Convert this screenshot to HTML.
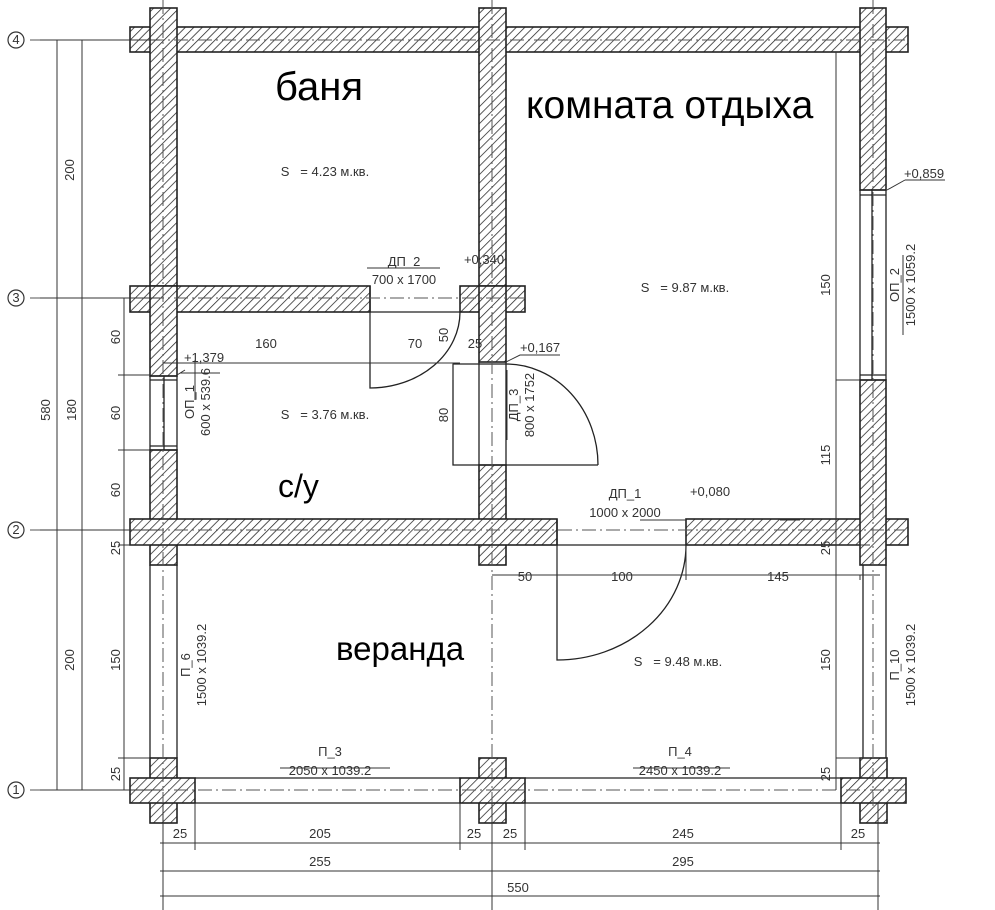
<!DOCTYPE html>
<html><head><meta charset="utf-8"><style>
html,body{margin:0;padding:0;background:#fff;}
svg{display:block;}
.t{font-family:"Liberation Sans",sans-serif;font-size:13px;fill:#333;}
.b{font-family:"Liberation Sans",sans-serif;fill:#000;}
</style></head><body>
<svg width="995" height="910" viewBox="0 0 995 910" xmlns="http://www.w3.org/2000/svg">
<defs>
<pattern id="h" patternUnits="userSpaceOnUse" width="6" height="6" patternTransform="rotate(45)">
<rect width="6" height="6" fill="#fff"/><line x1="0" y1="0" x2="0" y2="6" stroke="#222" stroke-width="1.5"/>
</pattern>
</defs>
<rect width="995" height="910" fill="#fff"/>
<g fill="url(#h)" stroke="#222" stroke-width="1.6">
<rect x="130" y="27" width="778" height="25"/>
<rect x="150" y="8" width="27" height="290"/>
<rect x="479" y="8" width="27" height="290"/>
<rect x="860" y="8" width="26" height="182"/>
<rect x="130" y="286" width="240" height="26"/>
<rect x="460" y="286" width="65" height="26"/>
<rect x="150" y="286" width="27" height="90"/>
<rect x="479" y="286" width="27" height="76"/>
<rect x="150" y="450" width="27" height="115"/>
<rect x="479" y="465" width="27" height="100"/>
<rect x="130" y="519" width="427" height="26"/>
<rect x="686" y="519" width="222" height="26"/>
<rect x="860" y="380" width="26" height="185"/>
<rect x="150" y="758" width="27" height="65"/>
<rect x="130" y="778" width="65" height="25"/>
<rect x="479" y="758" width="27" height="65"/>
<rect x="460" y="778" width="65" height="25"/>
<rect x="860" y="758" width="27" height="65"/>
<rect x="841" y="778" width="65" height="25"/>
</g>
<g fill="url(#h)" stroke="none">
<rect x="151" y="28" width="25" height="23"/><rect x="480" y="28" width="25" height="23"/><rect x="861" y="28" width="24" height="23"/>
<rect x="151" y="287" width="25" height="24"/><rect x="480" y="287" width="25" height="24"/>
<rect x="151" y="520" width="25" height="24"/><rect x="480" y="520" width="25" height="24"/><rect x="861" y="520" width="24" height="24"/>
<rect x="151" y="779" width="25" height="23"/><rect x="480" y="779" width="25" height="23"/><rect x="861" y="779" width="25" height="23"/>
</g>
<g stroke="#222" stroke-width="1.3" fill="none">
<path d="M150 376V450M177 376V450M164 376V450M150 376H177M150 380H177M150 446H177M150 450H177"/>
<path d="M860 190V380M886 190V380M872 190V380M860 190H886M860 195H886M860 375H886M860 380H886"/>
<path d="M479 362V465M506 362V465M370 286V312M370 312H460M557 519V545M557 545H686"/>
<path d="M150 565V758M177 565V758M863 565V758M886 565V758M195 778H460M195 803H460M525 778H841M525 803H841"/>
<path d="M370 312V388A90 76 0 0 0 460 312"/>
<path d="M453 364H506M453 364V465H598M506 364A92 101 0 0 1 598 465"/>
<path d="M557 545V660A129 115 0 0 0 686 545"/>
</g>
<g stroke="#555" stroke-width="1" fill="none" stroke-dasharray="14 4 2 4">
<path d="M30 40H905M30 298H525M30 530H905M30 790H905"/>
<path d="M163 0V810M492 0V900M873 0V810"/>
</g>
<g stroke="#333" stroke-width="1" fill="none">
<path d="M57 40V790M82 40V790M124 298V790M40 40H160M40 298H160M40 530H160M40 790H160"/>
<path d="M118 375H150M118 450H150M118 545H150M118 758H150"/>
<path d="M163 363H460M370 363V312M453 363V380M836 52V790M836 380H860M836 545H870M836 758H870"/>
<path d="M492 575H880M557 545V580M686 545V580M860 575V580"/>
<path d="M160 843H880M160 871H880M160 896H880M163 803V910M492 803V910M878 803V910M195 803V850M460 803V850M525 803V850M841 803V850"/>
<path d="M367 268H440M640 520H686M780 520H800M280 768H390M633 768H730M180 373H220M905 180H945M887 190L905 180M177 375L185 370M506 362L520 355H560"/>
<path d="M903 255V335M195 400V360M507 440V370"/>
</g>
<g stroke="#333" stroke-width="1.2" fill="#fff">
<circle cx="16" cy="40" r="8"/><circle cx="16" cy="298" r="8"/><circle cx="16" cy="530" r="8"/><circle cx="16" cy="790" r="8"/>
</g>
<g class="t" text-anchor="middle" font-size="11">
<text x="16" y="44">4</text><text x="16" y="302">3</text><text x="16" y="534">2</text><text x="16" y="794">1</text>
</g>
<g class="t" text-anchor="middle">
<text x="325" y="176">S &#160; = 4.23 м.кв.</text>
<text x="685" y="292">S &#160; = 9.87 м.кв.</text>
<text x="325" y="419">S &#160; = 3.76 м.кв.</text>
<text x="678" y="666">S &#160; = 9.48 м.кв.</text>
<text x="404" y="266">ДП_2</text><text x="404" y="284">700 x 1700</text>
<text x="484" y="264">+0,340</text>
<text x="924" y="178">+0,859</text>
<text x="204" y="362">+1,379</text>
<text x="540" y="352">+0,167</text>
<text x="710" y="496">+0,080</text>
<text x="625" y="498">ДП_1</text><text x="625" y="517">1000 x 2000</text>
<text x="266" y="348">160</text><text x="415" y="348">70</text><text x="475" y="348">25</text>
<text x="525" y="581">50</text><text x="622" y="581">100</text><text x="778" y="581">145</text>
<text x="330" y="756">П_3</text><text x="330" y="775">2050 x 1039.2</text>
<text x="680" y="756">П_4</text><text x="680" y="775">2450 x 1039.2</text>
<text x="180" y="838">25</text><text x="320" y="838">205</text><text x="474" y="838">25</text><text x="510" y="838">25</text><text x="683" y="838">245</text><text x="858" y="838">25</text>
<text x="320" y="866">255</text><text x="683" y="866">295</text><text x="518" y="892">550</text>
</g>
<g class="t" text-anchor="middle">
<text transform="translate(74,170) rotate(-90)">200</text>
<text transform="translate(50,410) rotate(-90)">580</text>
<text transform="translate(76,410) rotate(-90)">180</text>
<text transform="translate(74,660) rotate(-90)">200</text>
<text transform="translate(120,337) rotate(-90)">60</text>
<text transform="translate(120,413) rotate(-90)">60</text>
<text transform="translate(120,490) rotate(-90)">60</text>
<text transform="translate(120,548) rotate(-90)">25</text>
<text transform="translate(120,660) rotate(-90)">150</text>
<text transform="translate(120,774) rotate(-90)">25</text>
<text transform="translate(448,335) rotate(-90)">50</text>
<text transform="translate(448,415) rotate(-90)">80</text>
<text transform="translate(830,285) rotate(-90)">150</text>
<text transform="translate(830,455) rotate(-90)">115</text>
<text transform="translate(830,548) rotate(-90)">25</text>
<text transform="translate(830,660) rotate(-90)">150</text>
<text transform="translate(830,774) rotate(-90)">25</text>
<text transform="translate(194,402) rotate(-90)">ОП_1</text><text transform="translate(210,402) rotate(-90)">600 x 539.6</text>
<text transform="translate(518,405) rotate(-90)">ДП_3</text><text transform="translate(534,405) rotate(-90)">800 x 1752</text>
<text transform="translate(899,285) rotate(-90)">ОП_2</text><text transform="translate(915,285) rotate(-90)">1500 x 1059.2</text>
<text transform="translate(190,665) rotate(-90)">П_6</text><text transform="translate(206,665) rotate(-90)">1500 x 1039.2</text>
<text transform="translate(899,665) rotate(-90)">П_10</text><text transform="translate(915,665) rotate(-90)">1500 x 1039.2</text>
</g>
<text class="b" x="275" y="100" font-size="40">баня</text>
<text class="b" x="526" y="118" font-size="39">комната отдыха</text>
<text class="b" x="278" y="497" font-size="32">с/у</text>
<text class="b" x="336" y="660" font-size="33">веранда</text>
</svg>
</body></html>
